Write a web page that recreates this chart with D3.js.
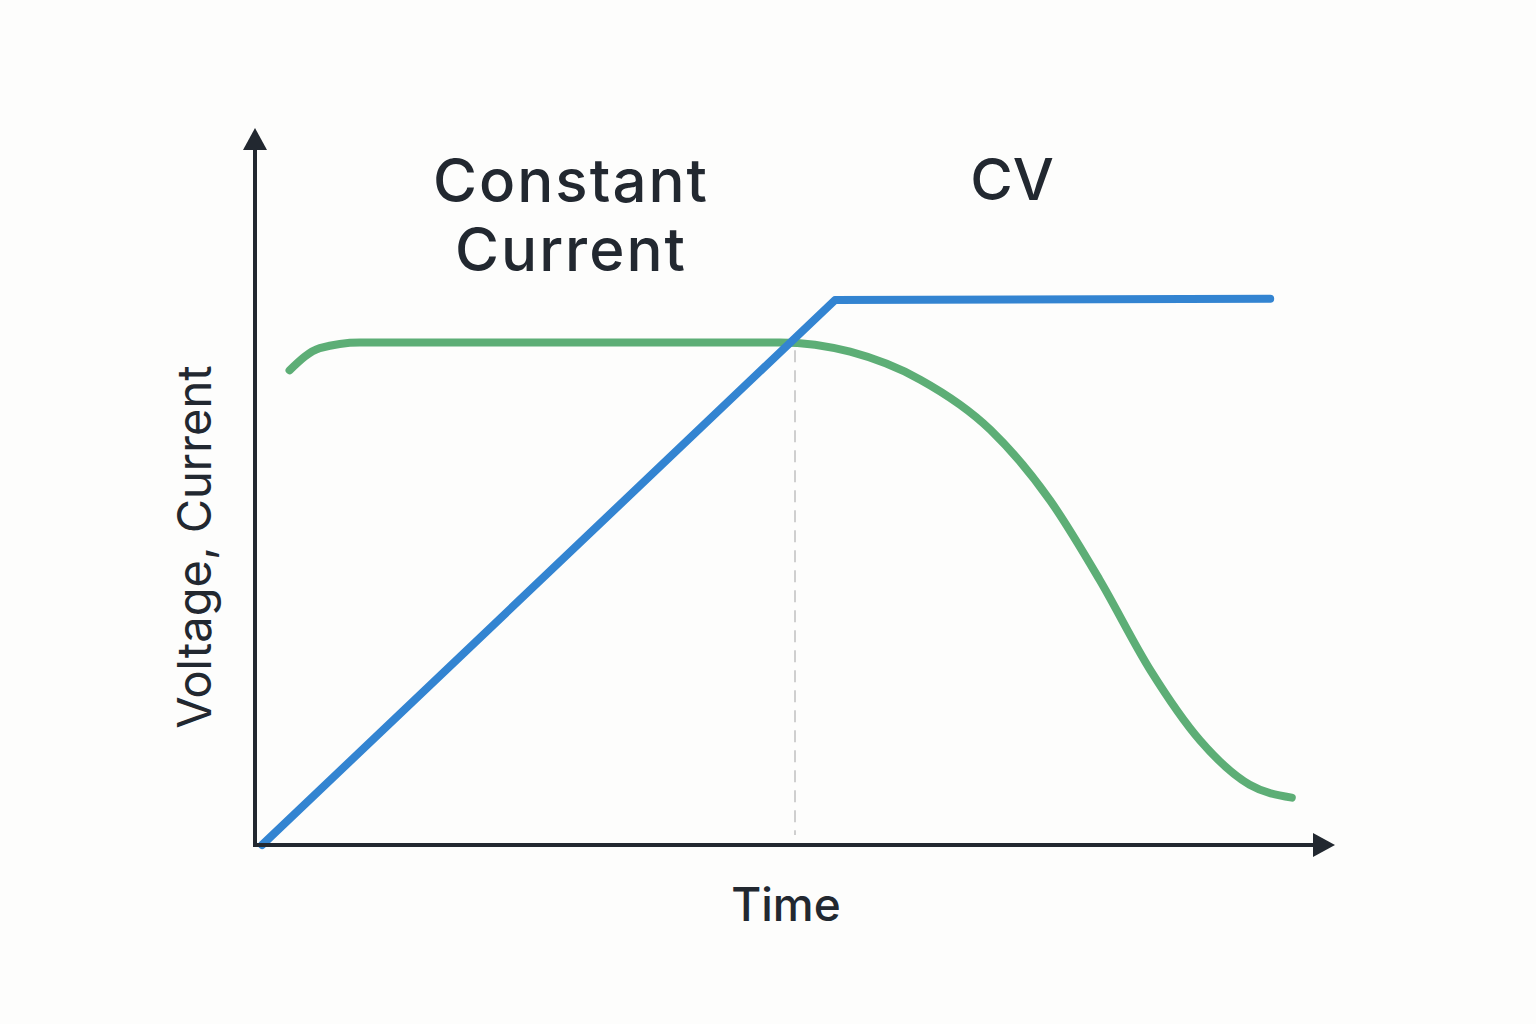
<!DOCTYPE html>
<html><head><meta charset="utf-8">
<script src="https://cdn.jsdelivr.net/npm/d3@7"></script>
<style>body{margin:0;background:#fdfdfc}svg{display:block}</style>
</head><body>
<script>
const blueT = [0.065, 5.37, 9.4];
const blueV = [0, 7.6, 7.62];
const greenT = [0.32,0.60,0.97,4.86,5.51,6.16,6.81,7.36,7.82,8.29,8.75,9.21,9.60];
const greenV = [6.62,6.93,7.01,7.01,6.88,6.49,5.79,4.81,3.70,2.44,1.46,0.84,0.66];
const transitionT = 5.0;
const phaseLabels = ["Constant\nCurrent","CV"];
const W=1536,H=1024;
const svg=d3.select("body").append("svg").attr("width",W).attr("height",H);
const x=d3.scaleLinear().domain([0,10]).range([255,1335]);
const y=d3.scaleLinear().domain([0,10]).range([845,128]);
const ink="#222830", font="Inter, 'Noto Sans', sans-serif";
svg.append("line").attr("x1",x(transitionT)).attr("x2",x(transitionT)).attr("y1",y(6.9)).attr("y2",y(0.14))
  .attr("stroke","#cfcfcf").attr("stroke-width",2).attr("stroke-dasharray","12,8");
const line=d3.line().x(d=>x(d[0])).y(d=>y(d[1]));
svg.append("path").datum(greenT.map((t,i)=>[t,greenV[i]])).attr("d",line.curve(d3.curveMonotoneX))
  .attr("fill","none").attr("stroke","#5dae76").attr("stroke-width",8).attr("stroke-linecap","round").attr("stroke-linejoin","round");
svg.append("path").attr("d",d3.line().x(d=>x(d[0])).y(d=>y(d[1]))(blueT.map((t,i)=>[t,blueV[i]])))
  .attr("fill","none").attr("stroke","#3384d1").attr("stroke-width",8).attr("stroke-linecap","round").attr("stroke-linejoin","round");
svg.append("line").attr("x1",x(0)).attr("x2",x(0)).attr("y1",y(0)+2).attr("y2",y(10)+12).attr("stroke",ink).attr("stroke-width",4);
svg.append("line").attr("x1",x(0)).attr("x2",x(10)-10).attr("y1",y(0)).attr("y2",y(0)).attr("stroke",ink).attr("stroke-width",4);
svg.append("path").attr("d",`M${x(0)},${y(10)} L${x(0)-12},${y(10)+22} L${x(0)+12},${y(10)+22}Z`).attr("fill",ink);
svg.append("path").attr("d",`M${x(10)},${y(0)} L${x(10)-22},${y(0)-12} L${x(10)-22},${y(0)+12}Z`).attr("fill",ink);
const t1=svg.append("text").attr("x",570).attr("text-anchor","middle").attr("font-family",font).attr("font-size",60).attr("letter-spacing",2).attr("font-weight",500).attr("fill",ink);
phaseLabels[0].split("\n").forEach((s,i)=>t1.append("tspan").attr("x",571).attr("y",202+i*69).text(s));
svg.append("text").attr("x",1012).attr("y",200).attr("text-anchor","middle").attr("font-family",font).attr("font-size",58).attr("font-weight",500).attr("fill",ink).text(phaseLabels[1]);
svg.append("text").attr("x",786).attr("y",921).attr("text-anchor","middle").attr("font-family",font).attr("font-size",46).attr("font-weight",500).attr("fill",ink).text("Time");
svg.append("text").attr("transform","translate(211,547) rotate(-90)").attr("text-anchor","middle").attr("font-family",font).attr("font-size",47).attr("fill",ink).text("Voltage, Current");
</script>
</body></html>
